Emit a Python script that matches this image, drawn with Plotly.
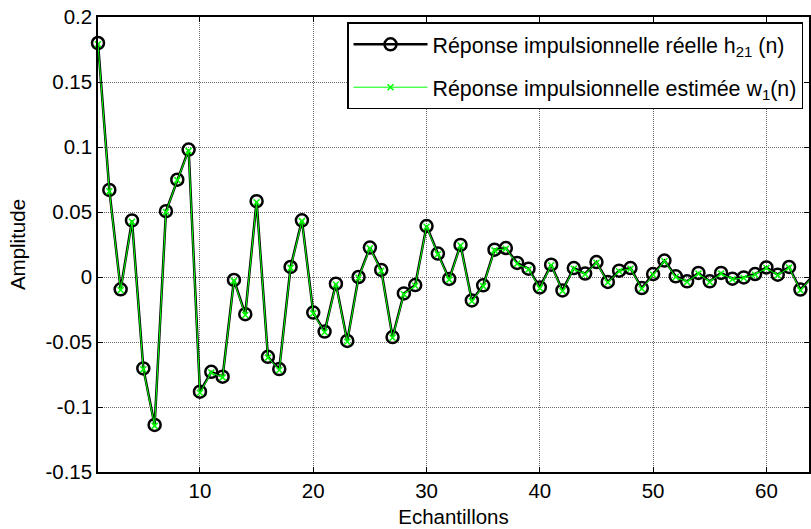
import plotly.graph_objects as go

n = list(range(1, 65))
h21 = [0.180, 0.067, -0.0095, 0.0435, -0.0703, -0.1138, 0.0506, 0.0749, 0.098, -0.0882,
       -0.0729, -0.0767, -0.0023, -0.0286, 0.0583, -0.0614, -0.0708, 0.0077, 0.0436, -0.0274,
       -0.042, -0.0051, -0.0492, 0.0, 0.0226, 0.0054, -0.0462, -0.0126, -0.0062, 0.0392,
       0.018, -0.0015, 0.0247, -0.018, -0.0064, 0.021, 0.0223, 0.0108, 0.0064, -0.008,
       0.0095, -0.0103, 0.0069, 0.0026, 0.0115, -0.0038, 0.0049, 0.0069, -0.0085, 0.0023,
       0.0126, 0.0005, -0.0033, 0.0031, -0.0033, 0.0031, -0.0013, -0.0003, 0.0023, 0.0074,
       0.0018, 0.0077, -0.0097, 0.0]
w1 = [0.179, 0.066, -0.0100, 0.0425, -0.0710, -0.1145, 0.0500, 0.0745, 0.097, -0.0890,
      -0.0735, -0.0772, -0.0030, -0.0292, 0.0575, -0.0620, -0.0715, 0.0070, 0.0430, -0.0280,
      -0.0425, -0.0058, -0.0498, -0.0006, 0.0220, 0.0048, -0.0468, -0.0132, -0.0068, 0.0386,
      0.0175, -0.0020, 0.0242, -0.0186, -0.0070, 0.0205, 0.0218, 0.0102, 0.0058, -0.0086,
      0.0090, -0.0108, 0.0064, 0.0021, 0.0110, -0.0043, 0.0044, 0.0064, -0.0090, 0.0018,
      0.0121, 0.0000, -0.0038, 0.0026, -0.0038, 0.0026, -0.0018, -0.0008, 0.0018, 0.0069,
      0.0013, 0.0072, -0.0102, -0.0005]

yticks = [-0.15, -0.1, -0.05, 0, 0.05, 0.1, 0.15, 0.2]
yticktext = ["-0.15", "-0.1", "-0.05", "0", "0.05", "0.1", "0.15", "0.2"]
xticks = [10, 20, 30, 40, 50, 60]

FONT = "Liberation Sans, Arial, sans-serif"
FS = 20.5

fig = go.Figure()
fig.add_trace(go.Scatter(
    x=n, y=h21, mode="lines+markers",
    name="Réponse impulsionnelle réelle h<sub>21</sub> (n)",
    line=dict(color="black", width=2.5),
    marker=dict(symbol="circle-open", size=12, color="black", line=dict(width=2.5, color="black")),
    cliponaxis=False, legendgroup="a",
))
fig.add_trace(go.Scatter(
    x=n, y=w1, mode="lines+markers",
    name="Réponse impulsionnelle estimée w<sub>1</sub>(n)",
    line=dict(color="#00ff00", width=1),
    marker=dict(symbol="x-thin-open", size=6, color="#00ff00", line=dict(width=1.5, color="#00ff00")),
    cliponaxis=False, legendgroup="b",
))

fig.update_layout(
    width=811, height=529,
    margin=dict(l=98, r=0, t=17, b=57),
    paper_bgcolor="white", plot_bgcolor="white",
    font=dict(family=FONT, size=FS, color="black"),
    showlegend=True,
    legend=dict(
        x=0.9916, y=0.988, xanchor="right", yanchor="top",
        bgcolor="white", bordercolor="black", borderwidth=1.5,
        font=dict(family=FONT, size=21.4, color="black"),
        tracegroupgap=12, traceorder="grouped", itemwidth=74,
    ),
)
fig.update_xaxes(
    range=[1, 63.76], tickvals=xticks, ticks="inside", ticklen=5, tickcolor="black",
    showline=True, linecolor="black", linewidth=1.5, mirror="ticks",
    showgrid=True, gridcolor="#6a6a6a", griddash="1px,1px", gridwidth=1, zeroline=False,
    title=dict(text="Echantillons", standoff=8, font=dict(size=FS)),
)
fig.update_yaxes(
    range=[-0.15, 0.2], tickvals=yticks, ticktext=yticktext, ticks="inside", ticklen=5, tickcolor="black",
    showline=True, linecolor="black", linewidth=1.5, mirror="ticks",
    showgrid=True, gridcolor="#6a6a6a", griddash="1px,1px", gridwidth=1, zeroline=False,
    title=dict(text="Amplitude", standoff=14, font=dict(size=FS)),
)

fig.write_html("out.html")
